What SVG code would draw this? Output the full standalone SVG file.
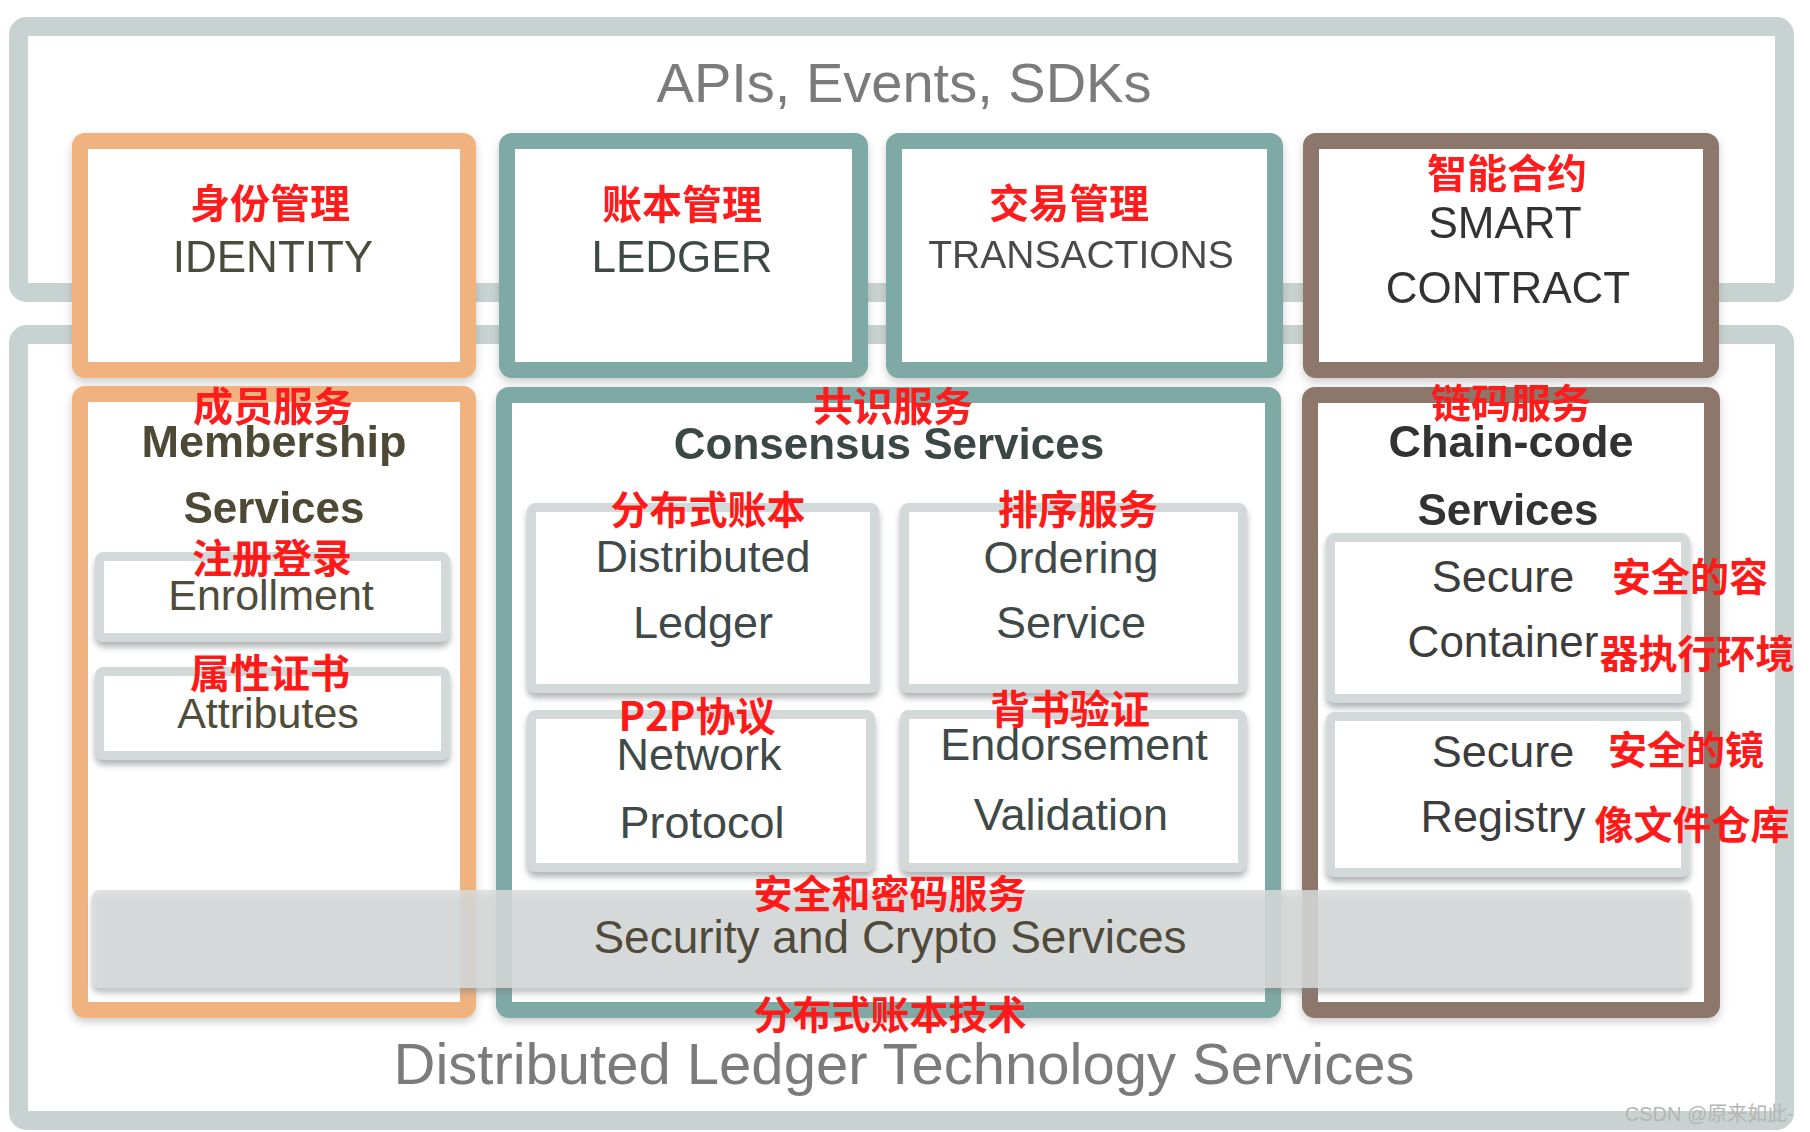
<svg xmlns="http://www.w3.org/2000/svg" width="1810" height="1132" viewBox="0 0 1810 1132">
<defs>
<filter id="sh" x="-10%" y="-10%" width="120%" height="130%">
<feDropShadow dx="0" dy="5" stdDeviation="3" flood-color="#7d8484" flood-opacity="0.6"/>
</filter>
<filter id="shb" x="-5%" y="-5%" width="110%" height="115%">
<feDropShadow dx="0" dy="4" stdDeviation="4" flood-color="#6f6f6f" flood-opacity="0.35"/>
</filter>
<style>
.outer{fill:#ffffff;stroke:#c8d2d0;stroke-width:19}
.org{fill:#ffffff;stroke:#f0b27f;stroke-width:16}
.teal{fill:#ffffff;stroke:#7fa9a5;stroke-width:16}
.brn{fill:#ffffff;stroke:#8d766a;stroke-width:16}
.sub{fill:#ffffff;stroke:#d3d9d8;stroke-width:9}
.t{font-family:"Liberation Sans",Arial,"Noto Sans CJK SC",sans-serif;text-anchor:middle}
.b{font-weight:bold}
.cn{font-family:"Noto Sans CJK SC","Noto Sans CJK TC",sans-serif;font-weight:bold;fill:#ff1a1a;text-anchor:middle;font-size:40px}
.big{font-size:56px;fill:#7b7b7b}
</style>
</defs>
<rect width="1810" height="1132" fill="#ffffff"/>

<g id="apis-layer">
<rect class="outer" x="18.5" y="26.5" width="1766" height="266" rx="8"/>
<text class="t big" x="904" y="102">APIs, Events, SDKs</text>
</g>

<g id="dlt-layer">
<rect class="outer" x="18.5" y="334.5" width="1766" height="786" rx="8"/>
<text class="t big" x="904" y="1084" style="font-size:58px">Distributed Ledger Technology Services</text>
</g>

<g id="identity" filter="url(#shb)">
<rect class="org" x="80" y="141" width="388" height="229" rx="5"/>
<text class="cn" x="270" y="218">身份管理</text>
<text class="t" x="273" y="272" style="font-size:44px;fill:#4a4b3c">IDENTITY</text>
</g>

<g id="ledger" filter="url(#shb)">
<rect class="teal" x="507" y="141" width="353" height="229" rx="5"/>
<text class="cn" x="682" y="219">账本管理</text>
<text class="t" x="682" y="272" style="font-size:44px;fill:#3e4a47">LEDGER</text>
</g>

<g id="transactions" filter="url(#shb)">
<rect class="teal" x="894" y="141" width="381" height="229" rx="5"/>
<text class="cn" x="1069" y="218">交易管理</text>
<text class="t" x="1081" y="268" style="font-size:39px;fill:#4a4a4a">TRANSACTIONS</text>
</g>

<g id="smart-contract" filter="url(#shb)">
<rect class="brn" x="1311" y="141" width="400" height="229" rx="5"/>
<text class="cn" x="1507" y="188">智能合约</text>
<text class="t" x="1505" y="238" style="font-size:44px;fill:#333333">SMART</text>
<text class="t" x="1508" y="303" style="font-size:44px;fill:#333333">CONTRACT</text>
</g>

<g id="membership-services" filter="url(#shb)">
<rect class="org" x="80" y="394" width="388" height="616" rx="5"/>
<text class="cn" x="273" y="421">成员服务</text>
<text class="t b" x="274" y="457" style="font-size:45px;fill:#4d4a35">Membership</text>
<text class="t b" x="274" y="523" style="font-size:44px;fill:#4d4a35">Services</text>
</g>

<g id="consensus-services" filter="url(#shb)">
<rect class="teal" x="504" y="395" width="769" height="615" rx="5"/>
<text class="cn" x="893" y="421">共识服务</text>
<text class="t b" x="889" y="459" style="font-size:44px;fill:#3b4645">Consensus Services</text>
</g>

<g id="chaincode-services" filter="url(#shb)">
<rect class="brn" x="1310" y="395" width="402" height="615" rx="5"/>
<text class="cn" x="1511" y="418">链码服务</text>
<text class="t b" x="1511" y="457" style="font-size:45px;fill:#333333">Chain-code</text>
<text class="t b" x="1508" y="525" style="font-size:44px;fill:#333333">Services</text>
</g>

<g id="enrollment">
<rect class="sub" x="99.5" y="556.5" width="346" height="81" rx="4" filter="url(#sh)"/>
<text class="cn" x="272" y="573">注册登录</text>
<text class="t" x="271" y="610" style="font-size:43px;fill:#4f4c3a">Enrollment</text>
</g>

<g id="attributes">
<rect class="sub" x="99.5" y="671.5" width="346" height="84" rx="4" filter="url(#sh)"/>
<text class="cn" x="270" y="688">属性证书</text>
<text class="t" x="268" y="728" style="font-size:43px;fill:#4f4c3a">Attributes</text>
</g>

<g id="distributed-ledger">
<rect class="sub" x="531.5" y="507.5" width="343" height="181" rx="4" filter="url(#sh)"/>
<text class="cn" x="708" y="524" style="font-size:39px">分布式账本</text>
<text class="t" x="703" y="572" style="font-size:45px;fill:#3f4a48">Distributed</text>
<text class="t" x="703" y="638" style="font-size:45px;fill:#3f4a48">Ledger</text>
</g>

<g id="ordering-service">
<rect class="sub" x="904.5" y="507.5" width="338" height="181" rx="4" filter="url(#sh)"/>
<text class="cn" x="1078" y="524">排序服务</text>
<text class="t" x="1071" y="573" style="font-size:45px;fill:#3f4a48">Ordering</text>
<text class="t" x="1071" y="638" style="font-size:45px;fill:#3f4a48">Service</text>
</g>

<g id="network-protocol">
<rect class="sub" x="531.5" y="714.5" width="339" height="153" rx="4" filter="url(#sh)"/>
<text class="cn" x="697" y="731">P2P协议</text>
<text class="t" x="699" y="770" style="font-size:45px;fill:#3f4a48">Network</text>
<text class="t" x="702" y="838" style="font-size:45px;fill:#3f4a48">Protocol</text>
</g>

<g id="endorsement-validation">
<rect class="sub" x="904.5" y="714.5" width="338" height="153" rx="4" filter="url(#sh)"/>
<text class="cn" x="1070" y="724">背书验证</text>
<text class="t" x="1074" y="760" style="font-size:45px;fill:#3f4a48">Endorsement</text>
<text class="t" x="1071" y="830" style="font-size:45px;fill:#3f4a48">Validation</text>
</g>

<g id="secure-container">
<rect class="sub" x="1330.5" y="537.5" width="355" height="161" rx="4" filter="url(#sh)"/>
<text class="t" x="1503" y="592" style="font-size:45px;fill:#3c3c3c">Secure</text>
<text class="t" x="1503" y="657" style="font-size:44px;fill:#3c3c3c">Container</text>
<text class="cn" x="1690" y="591" style="font-size:39px">安全的容</text>
<text class="cn" x="1697" y="668" style="font-size:39px">器执行环境</text>
</g>

<g id="secure-registry">
<rect class="sub" x="1330.5" y="716.5" width="355" height="156" rx="4" filter="url(#sh)"/>
<text class="t" x="1503" y="767" style="font-size:45px;fill:#3c3c3c">Secure</text>
<text class="t" x="1503" y="832" style="font-size:45px;fill:#3c3c3c">Registry</text>
<text class="cn" x="1686" y="764" style="font-size:39px">安全的镜</text>
<text class="cn" x="1692" y="839" style="font-size:39px">像文件仓库</text>
</g>

<g id="security-crypto">
<rect x="92" y="890" width="1599" height="98" rx="7" fill="#d9dcdc" fill-opacity="0.82" filter="url(#sh)"/>
<text class="cn" x="890" y="908" style="font-size:39px">安全和密码服务</text>
<text class="t" x="890" y="953" style="font-size:46px;fill:#4f4a3a">Security and Crypto Services</text>
</g>

<g id="dlt-label">
<text class="cn" x="890" y="1029" style="font-size:39px">分布式账本技术</text>
</g>

<g id="connectors"/>

<text x="1794" y="1121" style="font-family:'Liberation Sans','Noto Sans CJK SC',sans-serif;font-size:20px;fill:#b5b5b5;text-anchor:end">CSDN @原来如此-</text>
</svg>
